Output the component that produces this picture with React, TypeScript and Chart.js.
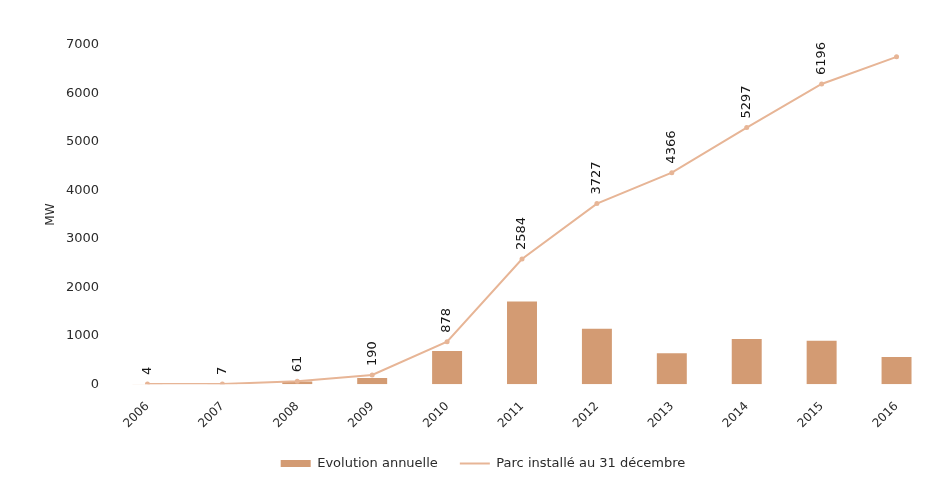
import { useEffect, useRef } from 'react';
import { Chart, registerables } from 'chart.js';

Chart.register(...registerables);

// Years on the category axis
const years = ['2006', '2007', '2008', '2009', '2010', '2011', '2012', '2013', '2014', '2015', '2016'];
// MW added during each year
const annualAdded = [4, 3, 54, 129, 688, 1706, 1143, 639, 931, 899, 560];
// Installed capacity on 31 December (MW)
const installedCapacity = [4, 7, 61, 190, 878, 2584, 3727, 4366, 5297, 6196, 6756];
// Only the first ten points carry a value label
const labelledCount = 10;

const yMax = 7000;
const yStep = 1000;

const barColor = '#d39b73';
const lineColor = '#e7b596';
const textColor = '#2b2b2b';
const fontFamily = '"DejaVu Sans", sans-serif';

// Vertical value labels above the cumulative line
const pointLabels = {
  id: 'pointLabels',
  afterDatasetsDraw(chart: any) {
    const meta = chart.getDatasetMeta(1);
    const ctx = chart.ctx;
    ctx.save();
    ctx.font = `13px ${fontFamily}`;
    ctx.fillStyle = '#161616';
    ctx.textAlign = 'left';
    ctx.textBaseline = 'middle';
    meta.data.forEach((pt: any, i: number) => {
      if (i >= labelledCount) return;
      ctx.save();
      ctx.translate(pt.x, pt.y - 9);
      ctx.rotate(-Math.PI / 2);
      ctx.fillText(String(installedCapacity[i]), 0, 0);
      ctx.restore();
    });
    ctx.restore();
  },
};

export default function App() {
  const canvasRef = useRef<HTMLCanvasElement | null>(null);

  useEffect(() => {
    document.body.style.margin = '0';
    const canvas = canvasRef.current;
    if (!canvas) return;

    const chart = new Chart(canvas, {
      type: 'bar',
      data: {
        labels: years,
        datasets: [
          {
            type: 'bar',
            label: 'Evolution annuelle',
            data: annualAdded,
            backgroundColor: barColor,
            borderWidth: 0,
            barPercentage: 0.8,
            categoryPercentage: 0.5,
            order: 1,
          },
          {
            type: 'line',
            label: 'Parc installé au 31 décembre',
            data: installedCapacity,
            borderColor: lineColor,
            backgroundColor: lineColor,
            borderWidth: 2,
            pointRadius: 2.5,
            pointBackgroundColor: lineColor,
            pointBorderWidth: 0,
            tension: 0,
            order: 0,
          },
        ],
      },
      options: {
        responsive: false,
        animation: false,
        layout: { autoPadding: false, padding: { left: 32, top: 45, right: 1, bottom: -2 } },
        scales: {
          x: {
            grid: { display: false },
            border: { display: false },
            ticks: {
              minRotation: 45,
              maxRotation: 45,
              color: textColor,
              padding: 7,
              font: { family: fontFamily, size: 12 },
            },
            afterFit(scale: any) {
              scale.paddingRight = 0;
              scale.height -= 3;
            },
          },
          y: {
            min: 0,
            max: yMax,
            grid: { display: false, drawTicks: false },
            border: { display: false },
            ticks: {
              stepSize: yStep,
              color: textColor,
              padding: 11,
              font: { family: fontFamily, size: 13 },
              callback: (v: any) => String(v),
            },
            title: {
              display: true,
              text: 'MW',
              color: textColor,
              padding: { top: 12, bottom: 0 },
              font: { family: fontFamily, size: 12 },
            },
            afterFit(scale: any) {
              scale.width = 78;
            },
          },
        },
        plugins: {
          tooltip: { enabled: false },
          legend: {
            position: 'bottom',
            labels: {
              usePointStyle: true,
              pointStyleWidth: 30,
              boxHeight: 7,
              padding: 22,
              color: textColor,
              font: { family: fontFamily, size: 13 },
              generateLabels(c: any) {
                const items = Chart.defaults.plugins.legend.labels.generateLabels(c);
                items.sort((a: any, b: any) => a.datasetIndex - b.datasetIndex);
                return items.map((it: any) =>
                  it.datasetIndex === 0
                    ? { ...it, pointStyle: 'rect', lineWidth: 0, fillStyle: barColor, strokeStyle: barColor }
                    : { ...it, pointStyle: 'line', lineWidth: 2, strokeStyle: lineColor, fillStyle: lineColor }
                );
              },
            },
          },
        },
      },
      plugins: [pointLabels],
    });

    return () => chart.destroy();
  }, []);

  return (
    <div style={{ width: 935, height: 478, background: '#ffffff' }}>
      <canvas ref={canvasRef} width={935} height={478} />
    </div>
  );
}
